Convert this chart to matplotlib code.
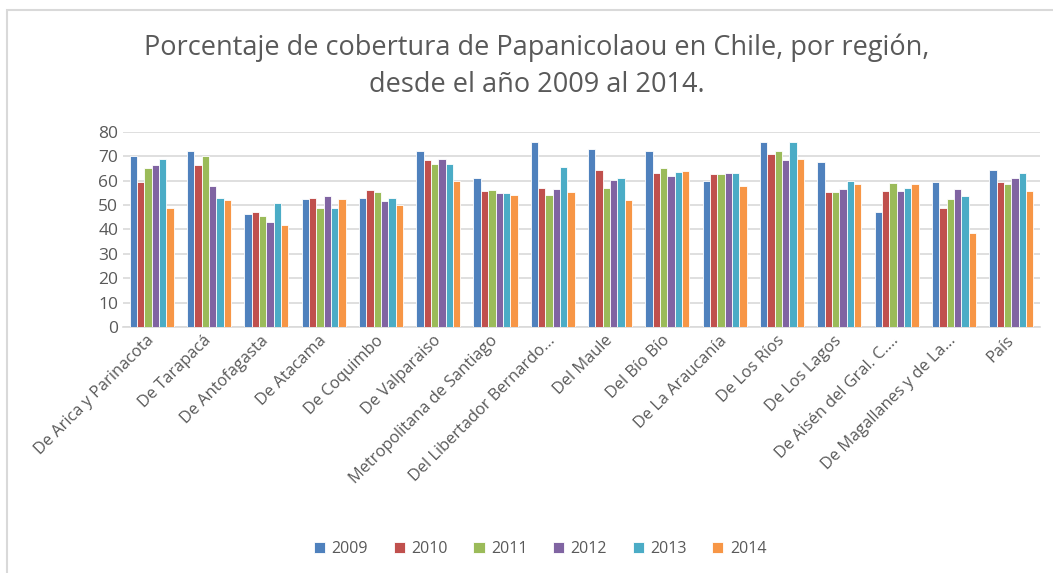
import matplotlib
matplotlib.use("Agg")
import matplotlib.pyplot as plt
from matplotlib.patches import Rectangle
import numpy as np

plt.rcParams['font.family'] = ['Open Sans', 'DejaVu Sans']

# regions (x-axis categories)
regions = ["De Arica y Parinacota", "De Tarapacá", "De Antofagasta", "De Atacama",
           "De Coquimbo", "De Valparaiso", "Metropolitana de Santiago",
           "Del Libertador Bernardo...", "Del Maule", "Del Bío Bío", "De La Araucanía",
           "De Los Ríos", "De Los Lagos", "De Aisén del Gral. C....",
           "De Magallanes y de La...", "País"]

years = ["2009", "2010", "2011", "2012", "2013", "2014"]

v2009 = [70.2, 72.3, 46.2, 52.5, 52.9, 72.3, 60.9, 75.9, 72.8, 71.9, 59.9, 75.9, 67.4, 47.1, 59.5, 64.4]
v2010 = [59.4, 66.2, 47.1, 52.9, 56.0, 68.4, 55.6, 56.8, 64.4, 63.1, 62.7, 71.0, 55.2, 55.6, 48.9, 59.5]
v2011 = [65.3, 70.2, 45.4, 48.9, 55.3, 66.6, 56.0, 54.2, 56.8, 65.3, 62.7, 71.9, 55.2, 59.1, 52.5, 58.7]
v2012 = [66.2, 57.8, 43.2, 53.8, 51.6, 68.8, 54.8, 56.4, 60.4, 61.7, 63.1, 68.4, 56.4, 55.6, 56.4, 60.9]
v2013 = [68.8, 52.9, 50.7, 48.9, 52.9, 66.6, 54.8, 65.7, 60.9, 63.5, 63.1, 75.9, 59.9, 56.8, 53.8, 63.1]
v2014 = [48.9, 52.0, 41.8, 52.5, 49.9, 59.9, 54.2, 55.2, 52.0, 63.9, 57.8, 68.8, 58.7, 58.7, 38.7, 55.6]

series = [v2009, v2010, v2011, v2012, v2013, v2014]
colors = ["#4F81BD", "#C0504D", "#9BBB59", "#8064A2", "#4BACC6", "#F79646"]
text_col = "#595959"

fig = plt.figure(figsize=(10.53, 5.73), dpi=100)
ax = fig.add_axes([0.1168, 0.4288, 0.8708, 0.3414])

x = np.arange(len(regions))
w = 0.128
for i, (vals, c) in enumerate(zip(series, colors)):
    ax.bar(x + (i - 2.5) * w, vals, width=w, color=c, edgecolor="white",
           linewidth=0.6, label=years[i], zorder=3)

ax.set_xlim(-0.5, len(regions) - 0.5)
ax.set_ylim(0, 80)
ax.set_yticks(range(0, 81, 10))
ax.grid(axis="y", color="#D9D9D9", linewidth=1.2, zorder=0)
for s in ["top", "right", "left"]:
    ax.spines[s].set_visible(False)
ax.spines["bottom"].set_color("#D9D9D9")
ax.spines["bottom"].set_linewidth(1.2)
ax.tick_params(axis="both", length=0, colors=text_col, labelsize=12.5)
ax.tick_params(axis="x", labelsize=11.8, pad=8)
ax.set_xticks(x)
ax.set_xticklabels(regions, rotation=45, ha="right", va="center", rotation_mode="anchor")

fig.text(0.51, 0.884, "Porcentaje de cobertura de Papanicolaou en Chile, por región,\ndesde el año 2009 al 2014.",
         ha="center", va="center", fontsize=19.5, color=text_col, linespacing=1.42)

fig.legend(loc="center", bbox_to_anchor=(0.513, 0.042), ncol=6, frameon=False,
           fontsize=11.5, handlelength=0.7, handleheight=0.7, handletextpad=0.4,
           columnspacing=1.6, labelcolor=text_col)

# light chart border (top and left visible)
fig.patches.append(Rectangle((7 / 1053, -0.1), 1.2, 1.1 - 10 / 573, transform=fig.transFigure,
                             fill=False, edgecolor="#D9D9D9", linewidth=1.5))

fig.savefig("out.png", dpi=100)
